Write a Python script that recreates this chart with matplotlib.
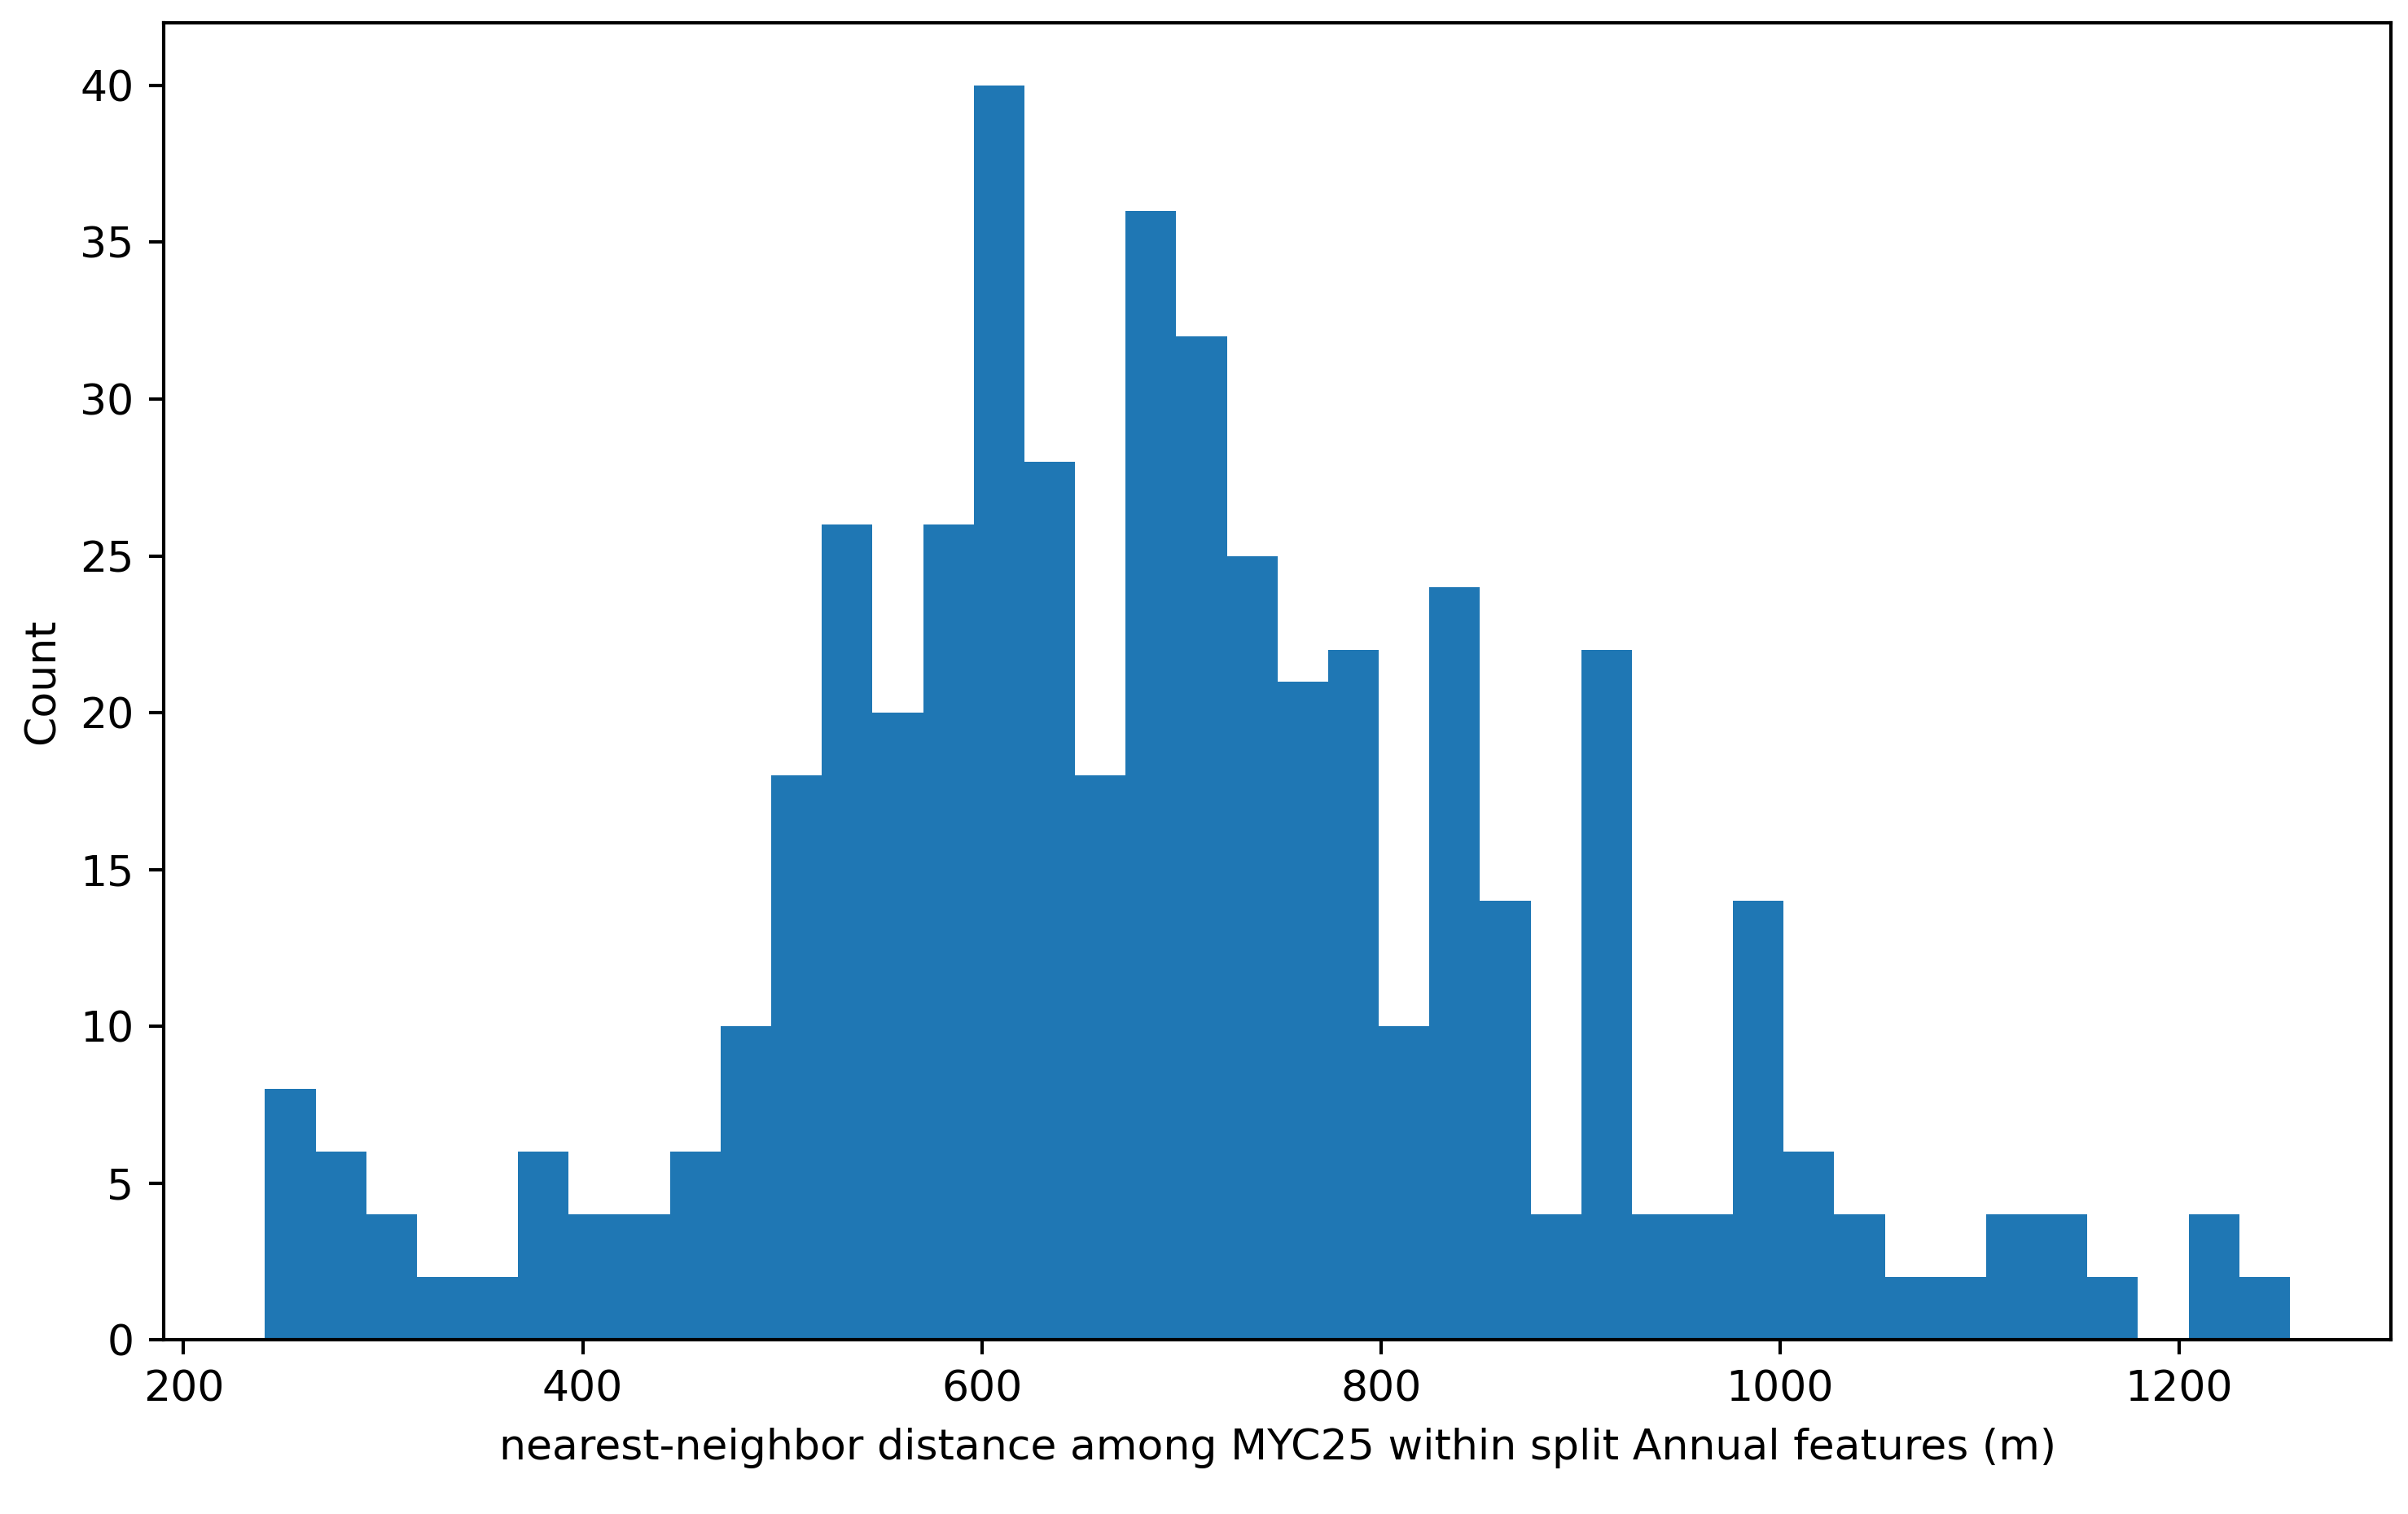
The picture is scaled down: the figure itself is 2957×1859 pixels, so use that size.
import numpy as np
import matplotlib
matplotlib.use("Agg")
import matplotlib.pyplot as plt

# ==========================
# Dados (contagem por bin)
# ==========================
bin_min = 240.8
bin_max = 1255.5
n_bins = 40

counts = [8, 6, 4, 2, 2, 6, 4, 4, 6, 10,
          18, 26, 20, 26, 40, 28, 18, 36, 32, 25,
          21, 22, 10, 24, 14, 4, 22, 4, 4, 14,
          6, 4, 2, 2, 4, 4, 2, 0, 4, 2]

edges = np.linspace(bin_min, bin_max, n_bins + 1)
centers = (edges[:-1] + edges[1:]) / 2

# ==========================
# Grafico
# ==========================
fig, ax = plt.subplots(figsize=(2957 / 375, 1859 / 375), dpi=375)
ax.hist(centers, bins=edges, weights=counts, color="#1f77b4")
ax.set_xlabel("nearest-neighbor distance among MYC25 within split Annual features (m)")
ax.set_ylabel("Count")

fig.subplots_adjust(left=0.068, right=0.993, top=0.985, bottom=0.115)
fig.savefig("out.png", dpi=375)
